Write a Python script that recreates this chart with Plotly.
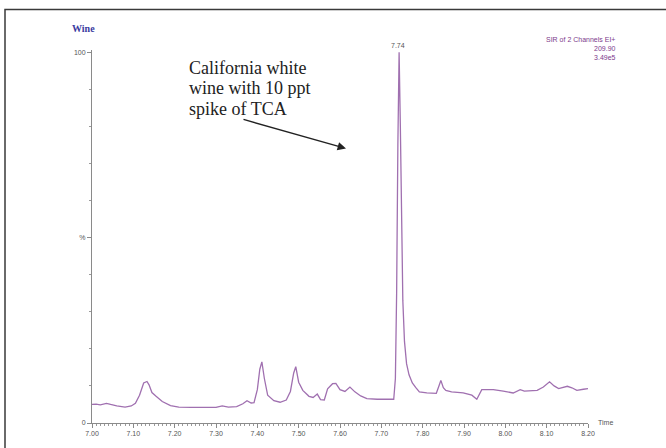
import plotly.graph_objects as go

# Chromatogram data (retention time in minutes, relative intensity in %)
time_min = [7.000, 7.010, 7.020, 7.035, 7.045, 7.060, 7.080, 7.095, 7.105, 7.115,
            7.125, 7.133, 7.138, 7.145, 7.155, 7.170, 7.190, 7.210, 7.240, 7.270,
            7.300, 7.315, 7.330, 7.350, 7.365, 7.375, 7.385, 7.392, 7.400, 7.406,
            7.411, 7.417, 7.425, 7.440, 7.455, 7.470, 7.480, 7.488, 7.493, 7.500,
            7.510, 7.525, 7.535, 7.545, 7.553, 7.562, 7.570, 7.582, 7.590, 7.600,
            7.612, 7.624, 7.636, 7.650, 7.665, 7.690, 7.710, 7.730, 7.734, 7.737,
            7.740, 7.743, 7.746, 7.749, 7.752, 7.756, 7.761, 7.767, 7.775, 7.783,
            7.792, 7.810, 7.833, 7.840, 7.844, 7.850, 7.856, 7.870, 7.898, 7.919,
            7.931, 7.943, 7.971, 7.995, 8.019, 8.036, 8.046, 8.077, 8.092, 8.107,
            8.118, 8.129, 8.150, 8.161, 8.173, 8.189, 8.200]
intensity = [5.0, 5.1, 4.9, 5.3, 5.0, 4.6, 4.3, 4.6, 5.3, 7.5,
             10.8, 11.2, 10.3, 8.2, 7.2, 5.8, 4.7, 4.3, 4.2, 4.3,
             4.2, 4.6, 4.3, 4.4, 5.2, 6.0, 5.4, 5.5, 9.0, 14.5,
             16.5, 12.0, 7.5, 6.0, 5.6, 6.2, 8.5, 13.5, 15.2, 11.0,
             8.8, 7.2, 6.9, 7.8, 6.3, 6.2, 9.2, 10.6, 10.7, 9.0,
             8.5, 9.7, 8.4, 7.3, 6.6, 6.4, 6.4, 6.4, 12.0, 35.0,
             75.0, 100.0, 80.0, 50.0, 33.0, 22.0, 16.0, 13.0, 10.8, 9.6,
             8.4, 8.1, 8.0, 10.2, 11.5, 9.5, 8.8, 8.4, 8.1, 7.5,
             6.4, 9.0, 9.0, 8.6, 8.1, 9.0, 8.6, 8.8, 9.7, 11.1,
             10.0, 9.3, 9.9, 9.5, 8.8, 9.1, 9.3]

x_tick_vals = [7.0, 7.1, 7.2, 7.3, 7.4, 7.5, 7.6, 7.7, 7.8, 7.9, 8.0, 8.1, 8.2]
x_tick_text = ["7.00", "7.10", "7.20", "7.30", "7.40", "7.50", "7.60",
               "7.70", "7.80", "7.90", "8.00", "8.10", "8.20"]
y_tick_vals = [0, 50, 100]
y_tick_text = ["0", "%", "100"]

peak_time = 7.74
peak_label = "7.74"
note_lines = ["California white", "wine with 10 ppt", "spike of TCA"]

W, H = 666, 448
L, R, T, B = 92, 78, 50, 25
PW, PH = W - L - R, H - T - B


def px(x):
    return (x - L) / PW


def py(y):
    return (H - B - y) / PH


fig = go.Figure()
fig.add_trace(go.Scatter(
    x=time_min, y=intensity, mode="lines",
    line=dict(color="#a070b0", width=1.3),
    hoverinfo="x+y", showlegend=False,
))

tick_font = dict(family="Liberation Sans, Arial, sans-serif", size=7, color="#555555")

fig.update_layout(
    width=W, height=H,
    margin=dict(l=L, r=R, t=T, b=B),
    paper_bgcolor="white", plot_bgcolor="white",
    showlegend=False,
    xaxis=dict(
        range=[7.0, 8.2], tickvals=x_tick_vals, ticktext=x_tick_text,
        showgrid=False, zeroline=False, showline=True, linecolor="#8a8a8a", linewidth=1,
        ticks="outside", ticklen=4, tickcolor="#8a8a8a", tickfont=tick_font,
        minor=dict(dtick=0.01, ticks="outside", ticklen=2, tickcolor="#9a9a9a", showgrid=False),
    ),
    yaxis=dict(
        range=[0, 100.6], tickvals=y_tick_vals, ticktext=y_tick_text,
        showgrid=False, zeroline=False, showline=True, linecolor="#8a8a8a", linewidth=1,
        ticks="outside", ticklen=4, tickcolor="#8a8a8a", tickfont=tick_font,
        minor=dict(dtick=10, ticks="outside", ticklen=2, tickcolor="#9a9a9a", showgrid=False),
    ),
)

# Outer frame of the figure
fig.add_shape(type="rect", xref="paper", yref="paper",
              x0=px(5), x1=px(700), y0=py(480), y1=py(9.5),
              line=dict(color="#3a3a3a", width=1.5), fillcolor="rgba(0,0,0,0)")

annotations = [
    dict(text="<b>Wine</b>", x=px(83), y=py(29), xanchor="center", yanchor="middle",
         font=dict(family="Liberation Serif, Times New Roman, serif", size=10, color="#3b3ba0")),
    dict(text="SIR of 2 Channels EI+<br>209.90<br>3.49e5", x=px(618), y=py(34),
         xanchor="right", yanchor="top", align="right",
         font=dict(family="Liberation Sans, Arial, sans-serif", size=7, color="#7d3a8c")),
    dict(text="Time", x=px(596), y=py(422), xanchor="left", yanchor="middle",
         font=dict(family="Liberation Sans, Arial, sans-serif", size=7, color="#555555")),
    dict(text=peak_label, x=peak_time, y=100, xref="x", yref="y", showarrow=False,
         xanchor="center", yanchor="bottom", yshift=1,
         font=dict(family="Liberation Sans, Arial, sans-serif", size=7, color="#555555")),
    dict(text="", x=px(346), y=py(148.5), ax=242 - 346, ay=119 - 148.5,
         axref="pixel", ayref="pixel", showarrow=True,
         arrowhead=2, arrowsize=1.2, arrowwidth=1.4, arrowcolor="#222222"),
]
for i, line in enumerate(note_lines):
    annotations.append(dict(
        text=line, x=px(187), y=py(67.7 + 20.7 * i), xanchor="left", yanchor="middle",
        font=dict(family="Liberation Serif, Times New Roman, serif", size=18, color="#222222")))

for a in annotations:
    a.setdefault("xref", "paper")
    a.setdefault("yref", "paper")
    a.setdefault("showarrow", False)
    fig.add_annotation(**a)

fig.write_html("out.html", config={"displayModeBar": False},
               post_script="document.body.style.margin='0';document.body.style.overflow='hidden';")
